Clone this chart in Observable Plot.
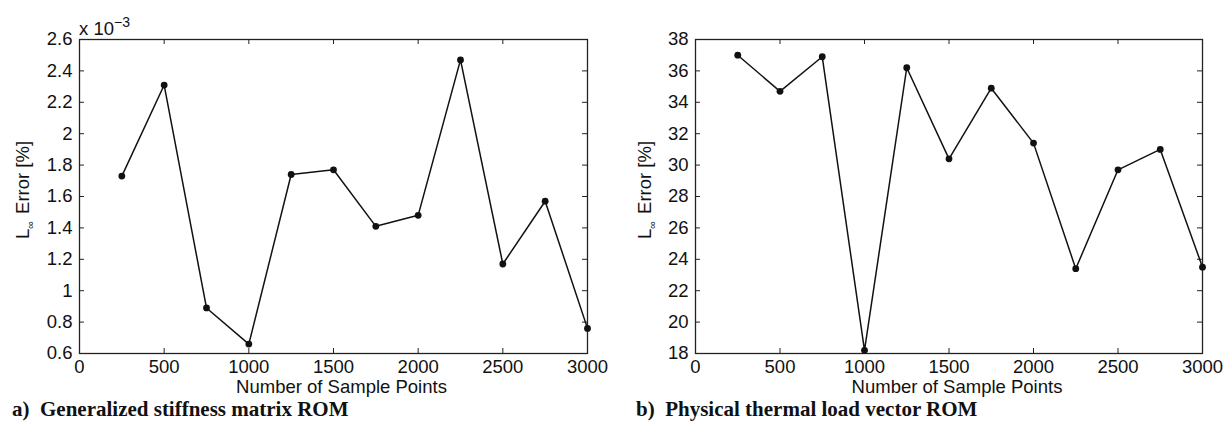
<!DOCTYPE html>
<html>
<head>
<meta charset="utf-8">
<script src="https://cdn.jsdelivr.net/npm/d3@7"></script>
<script src="https://cdn.jsdelivr.net/npm/@observablehq/plot@0.6"></script>
<style>
  html, body { margin: 0; padding: 0; background: #fff; }
  #wrap { position: relative; width: 1230px; height: 421px; overflow: hidden; }
  .panel { position: absolute; top: 0; width: 615px; height: 400px; }
  .caption { position: absolute; top: 397px; font-family: "Liberation Serif", "Times New Roman", serif;
             font-weight: bold; font-size: 21px; white-space: pre; color: #111; line-height: 24px; }
</style>
</head>
<body>
<div id="wrap">
  <div class="panel" id="pa" style="left:0px"></div>
  <div class="panel" id="pb" style="left:615px"></div>
  <div class="caption" style="left:12px">a)  Generalized stiffness matrix ROM</div>
  <div class="caption" style="left:636px">b)  Physical thermal load vector ROM</div>
</div>
<script>
// ---- data ----
const samplePoints = [250, 500, 750, 1000, 1250, 1500, 1750, 2000, 2250, 2500, 2750, 3000];
const stiffnessError = [1.73, 2.31, 0.89, 0.66, 1.74, 1.77, 1.41, 1.48, 2.47, 1.17, 1.57, 0.76]; // x 10^-3 %
const thermalError = [37.0, 34.7, 36.9, 18.2, 36.2, 30.4, 34.9, 31.4, 23.4, 29.7, 31.0, 23.5];
const xTicks = [0, 500, 1000, 1500, 2000, 2500, 3000];
const yTicksA = [0.6, 0.8, 1.0, 1.2, 1.4, 1.6, 1.8, 2.0, 2.2, 2.4, 2.6];
const yTicksB = [18, 20, 22, 24, 26, 28, 30, 32, 34, 36, 38];
const xLabel = "Number of Sample Points";

function panel(el, values, yDomain, yTicks, yFmt, marginLeft, yLabelX, exponent) {
  const W = 615, H = 400, mt = 39, mb = 47, mr = 28;
  const fw = W - marginLeft - mr, fh = H - mt - mb, tl = 5;
  const data = samplePoints.map((x, i) => ({x, y: values[i]}));
  const font = "Liberation Sans, Arial, sans-serif";
  const chart = Plot.plot({
    width: W, height: H,
    marginTop: mt, marginBottom: mb, marginLeft, marginRight: mr,
    style: {fontFamily: font, fontSize: "18.5px", color: "#111", background: "transparent"},
    x: {domain: [0, 3000]},
    y: {domain: yDomain},
    marks: [
      Plot.axisX(xTicks, {tickSize: 0, tickPadding: 6, fontSize: 18.5, label: null, tickFormat: d => String(d)}),
      Plot.axisY(yTicks, {tickSize: 0, tickPadding: 7, fontSize: 18.5, label: null, tickFormat: yFmt}),
      Plot.tickX(xTicks, {x: d => d, insetTop: fh - tl, stroke: "#222"}),
      Plot.tickX(xTicks, {x: d => d, insetBottom: fh - tl, stroke: "#222"}),
      Plot.tickY(yTicks, {y: d => d, insetRight: fw - tl, stroke: "#222"}),
      Plot.tickY(yTicks, {y: d => d, insetLeft: fw - tl, stroke: "#222"}),
      Plot.frame({stroke: "#222", strokeWidth: 1.3}),
      Plot.line(data, {x: "x", y: "y", stroke: "#111", strokeWidth: 1.5}),
      Plot.dot(data, {x: "x", y: "y", r: 3.4, fill: "#111", stroke: "none"}),
      Plot.text([xLabel], {text: d => d, frameAnchor: "bottom", lineAnchor: "middle", dy: 34, dx: 8, fontSize: 18.5, fill: "#111"})
    ]
  });
  const svg = d3.select(chart);
  const t = svg.append("text")
    .attr("transform", `translate(${yLabelX},190) rotate(-90)`)
    .attr("text-anchor", "middle")
    .attr("font-family", font).attr("font-size", 18.5).attr("fill", "#111");
  t.append("tspan").text("L");
  t.append("tspan").attr("font-size", 11).attr("dy", 5).text("∞");
  t.append("tspan").attr("dy", -5).attr("dx", 7).text("Error [%]");
  if (exponent) {
    const e = svg.append("text").attr("x", marginLeft).attr("y", 35)
      .attr("text-anchor", "start")
      .attr("font-family", font).attr("font-size", 18.5).attr("fill", "#111");
    e.append("tspan").text("x 10");
    e.append("tspan").attr("font-size", 14).attr("dy", -8).text(exponent);
  }
  document.getElementById(el).appendChild(chart);
}

panel("pa", stiffnessError, [0.6, 2.6], yTicksA, d => String(+d.toFixed(1)), 79, 29, "\u22123");
panel("pb", thermalError, [18, 38], yTicksB, d => String(d), 80, 36, null);
</script>
</body>
</html>
